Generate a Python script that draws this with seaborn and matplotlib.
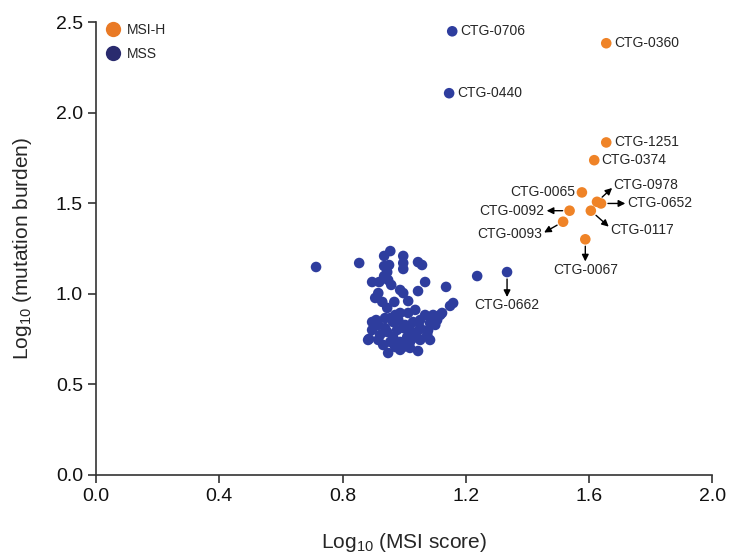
import matplotlib
matplotlib.use("Agg")
import matplotlib.pyplot as plt
from matplotlib.lines import Line2D
import seaborn as sns
import pandas as pd

# MSI-H samples (log10 MSI score, log10 mutation burden)
msih_names = ["CTG-0360", "CTG-1251", "CTG-0374", "CTG-0065", "CTG-0978",
              "CTG-0652", "CTG-0092", "CTG-0117", "CTG-0093", "CTG-0067"]
msih_x = [1.656, 1.656, 1.617, 1.577, 1.626, 1.639, 1.537, 1.606, 1.516, 1.588]
msih_y = [2.384, 1.836, 1.738, 1.560, 1.508, 1.499, 1.459, 1.459, 1.398, 1.301]

# MSS samples, the first three are labelled
mss_names = ["CTG-0706", "CTG-0440", "CTG-0662"]
mss_x = [1.156, 1.146, 1.334, 1.237, 0.714, 0.854,
         0.955, 0.935, 0.997, 0.997, 0.997, 1.045, 1.058, 0.935, 0.951, 0.945,
         0.935, 0.896, 0.919, 0.948, 0.958, 1.068, 0.987, 0.997, 1.045, 1.136,
         0.916, 0.906, 0.929, 0.968, 1.013, 0.945, 1.159, 1.149, 1.013, 0.987,
         0.938, 1.068, 1.094, 1.117, 0.896, 0.916, 0.964, 1.029, 1.052, 1.107,
         1.084, 0.896, 0.945, 0.977, 0.997, 1.042, 1.075, 0.922, 0.964, 1.010,
         1.029, 1.075, 0.883, 0.916, 0.955, 0.987, 1.019, 1.052, 1.084, 0.932,
         0.971, 0.997, 1.019, 0.987, 0.948, 1.045, 1.123, 1.078, 0.909, 0.886,
         0.971, 1.036, 1.003, 0.938, 1.052, 0.981, 1.019, 0.955, 1.101]
mss_y = [2.450, 2.108, 1.120, 1.098, 1.148, 1.170,
         1.236, 1.209, 1.209, 1.170, 1.137, 1.175, 1.159, 1.153, 1.159, 1.120,
         1.098, 1.065, 1.065, 1.076, 1.049, 1.065, 1.021, 1.004, 1.015, 1.038,
         1.004, 0.977, 0.955, 0.955, 0.960, 0.922, 0.949, 0.933, 0.894, 0.894,
         0.866, 0.883, 0.883, 0.883, 0.844, 0.828, 0.844, 0.844, 0.855, 0.855,
         0.839, 0.800, 0.789, 0.800, 0.811, 0.789, 0.789, 0.773, 0.762, 0.762,
         0.756, 0.773, 0.745, 0.745, 0.734, 0.734, 0.734, 0.745, 0.745, 0.717,
         0.706, 0.706, 0.701, 0.690, 0.673, 0.684, 0.894, 0.800, 0.855, 0.751,
         0.883, 0.911, 0.828, 0.811, 0.811, 0.855, 0.800, 0.866, 0.828]

orange = "#EF8327"
blue = "#2E3D9E"

# label placement: offset in points, alignment, arrow end on the text (or None)
label_style = {
    "CTG-0706": ((6, 0), "left", None),
    "CTG-0440": ((6, 0), "left", None),
    "CTG-0662": ((0, -24), "center", (0.5, 0.95)),
    "CTG-0360": ((6, 0), "left", None),
    "CTG-1251": ((6, 0), "left", None),
    "CTG-0374": ((5, 0), "left", None),
    "CTG-0065": ((-5, 0), "right", None),
    "CTG-0978": ((12, 12), "left", (0.0, 0.4)),
    "CTG-0652": ((19, 0), "left", (0.0, 0.5)),
    "CTG-0092": ((-18, 0), "right", (1.0, 0.5)),
    "CTG-0117": ((14, -14), "left", (0.0, 0.65)),
    "CTG-0093": ((-15, -9), "right", (1.0, 0.55)),
    "CTG-0067": ((0, -22), "center", (0.5, 0.95)),
}

df = pd.DataFrame({
    "msi": mss_x + msih_x,
    "tmb": mss_y + msih_y,
    "group": ["MSS"] * len(mss_x) + ["MSI-H"] * len(msih_x),
})

sns.set_style("ticks")
plt.rcParams["font.family"] = ["Liberation Sans", "DejaVu Sans"]
plt.rcParams["mathtext.fontset"] = "custom"
plt.rcParams["mathtext.rm"] = "Liberation Sans"
plt.rcParams["mathtext.it"] = "Liberation Sans"

fig = plt.figure(figsize=(7.45, 5.56), dpi=100)
ax = fig.add_axes([0.129, 0.146, 0.827, 0.814])

sns.scatterplot(data=df, x="msi", y="tmb", hue="group",
                palette={"MSS": blue, "MSI-H": orange},
                s=58, linewidth=0, legend=False, ax=ax, zorder=3)

ax.set_xlim(0, 2.0)
ax.set_ylim(0, 2.5)
ax.set_xticks([0.0, 0.4, 0.8, 1.2, 1.6, 2.0])
ax.set_yticks([0.0, 0.5, 1.0, 1.5, 2.0, 2.5])
ax.set_xticklabels(["0.0", "0.4", "0.8", "1.2", "1.6", "2.0"])
ax.set_yticklabels(["0.0", "0.5", "1.0", "1.5", "2.0", "2.5"])
ax.tick_params(axis="both", labelsize=14, length=6, width=1.2,
               color="#333333", labelcolor="#111111", direction="out")
for side in ["left", "bottom"]:
    ax.spines[side].set_linewidth(1.2)
    ax.spines[side].set_color("#333333")
sns.despine(ax=ax)
ax.set_xlabel(r"Log$_{10}$ (MSI score)", fontsize=15, labelpad=19)
ax.set_ylabel(r"Log$_{10}$ (mutation burden)", fontsize=15, labelpad=16)

points = list(zip(mss_names, mss_x, mss_y)) + list(zip(msih_names, msih_x, msih_y))
for name, px, py in points:
    off, ha, rel = label_style[name]
    props = None
    if rel is not None:
        props = dict(arrowstyle="<|-", color="black", lw=1.0,
                     mutation_scale=10, shrinkA=1.5, shrinkB=5,
                     patchA=None, relpos=rel)
    ax.annotate(name, xy=(px, py), xytext=off, textcoords="offset points",
                ha=ha, va="center", fontsize=10, arrowprops=props, zorder=4)

handles = [
    Line2D([], [], marker="o", linestyle="", markersize=11,
           markerfacecolor="#E97A26", markeredgewidth=0, label="MSI-H"),
    Line2D([], [], marker="o", linestyle="", markersize=11,
           markerfacecolor="#2A2B6E", markeredgewidth=0, label="MSS"),
]
ax.legend(handles=handles, loc="upper left", bbox_to_anchor=(0.0, 1.02),
          frameon=False, fontsize=10, handletextpad=0.5, labelspacing=0.75,
          handlelength=1.0, borderaxespad=0.3)

fig.savefig("out.png", dpi=100)
